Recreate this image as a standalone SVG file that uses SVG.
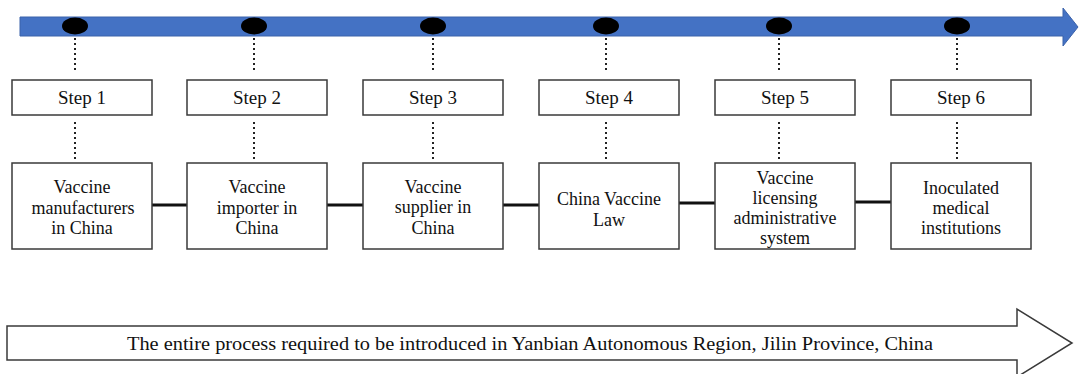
<svg xmlns="http://www.w3.org/2000/svg" width="1079" height="374" viewBox="0 0 1079 374">
<style>
.box{fill:#fff;stroke:#3a3a3a;stroke-width:1.5}
.t{font-family:"Liberation Serif","Times New Roman",serif;font-size:18px;fill:#111;text-anchor:middle}
.st{font-size:19px}
.dot{fill:none;stroke:#222;stroke-width:2;stroke-dasharray:2 3}
.conn{stroke:#111;stroke-width:3}
.bead{fill:#000}
</style>
<g id="timeline">
<polygon points="20,17 1063,17 1063,8 1078,27 1063,46 1063,36 20,36" fill="#4472C4" stroke="#3b62aa" stroke-width="1"/>
<ellipse class="bead" cx="75" cy="26" rx="13" ry="8.5"/>
<ellipse class="bead" cx="254" cy="26" rx="13" ry="8.5"/>
<ellipse class="bead" cx="433" cy="26" rx="13" ry="8.5"/>
<ellipse class="bead" cx="606" cy="26" rx="13" ry="8.5"/>
<ellipse class="bead" cx="779" cy="26" rx="13" ry="8.5"/>
<ellipse class="bead" cx="957" cy="26" rx="13" ry="8.5"/>
</g>
<g id="connectors">
<line class="dot" x1="75" y1="38" x2="75" y2="73"/>
<line class="dot" x1="254" y1="38" x2="254" y2="73"/>
<line class="dot" x1="433" y1="38" x2="433" y2="73"/>
<line class="dot" x1="606" y1="38" x2="606" y2="73"/>
<line class="dot" x1="779" y1="38" x2="779" y2="73"/>
<line class="dot" x1="957" y1="38" x2="957" y2="73"/>
<line class="dot" x1="75" y1="122" x2="75" y2="159"/>
<line class="dot" x1="254" y1="122" x2="254" y2="159"/>
<line class="dot" x1="433" y1="122" x2="433" y2="159"/>
<line class="dot" x1="606" y1="122" x2="606" y2="159"/>
<line class="dot" x1="779" y1="122" x2="779" y2="159"/>
<line class="dot" x1="957" y1="122" x2="957" y2="159"/>
<line class="conn" x1="152" y1="205" x2="187" y2="205"/>
<line class="conn" x1="327" y1="205" x2="363" y2="205"/>
<line class="conn" x1="503" y1="205" x2="539" y2="205"/>
<line class="conn" x1="679" y1="203" x2="715" y2="203"/>
<line class="conn" x1="855" y1="202" x2="891" y2="202"/>
</g>
<g id="step1"><rect class="box" x="12" y="80" width="140" height="35"/><text class="t st" x="82" y="104">Step 1</text></g>
<g id="step2"><rect class="box" x="187" y="80" width="140" height="35"/><text class="t st" x="257" y="104">Step 2</text></g>
<g id="step3"><rect class="box" x="363" y="80" width="140" height="35"/><text class="t st" x="433" y="104">Step 3</text></g>
<g id="step4"><rect class="box" x="539" y="80" width="140" height="35"/><text class="t st" x="609" y="104">Step 4</text></g>
<g id="step5"><rect class="box" x="715" y="80" width="140" height="35"/><text class="t st" x="785" y="104">Step 5</text></g>
<g id="step6"><rect class="box" x="891" y="80" width="140" height="35"/><text class="t st" x="961" y="104">Step 6</text></g>
<g id="node1"><rect class="box" x="12" y="163" width="140" height="86"/>
<text class="t" x="82" y="193">Vaccine</text><text class="t" x="83" y="214">manufacturers</text><text class="t" x="82" y="234">in China</text></g>
<g id="node2"><rect class="box" x="187" y="163" width="140" height="86"/>
<text class="t" x="257" y="193">Vaccine</text><text class="t" x="257" y="214">importer in</text><text class="t" x="257" y="234">China</text></g>
<g id="node3"><rect class="box" x="363" y="163" width="140" height="86"/>
<text class="t" x="433" y="193">Vaccine</text><text class="t" x="433" y="213">supplier in</text><text class="t" x="433" y="234">China</text></g>
<g id="node4"><rect class="box" x="539" y="163" width="140" height="86"/>
<text class="t" x="609" y="205">China Vaccine</text><text class="t" x="609" y="226">Law</text></g>
<g id="node5"><rect class="box" x="715" y="163" width="140" height="86"/>
<text class="t" x="785" y="184">Vaccine</text><text class="t" x="785" y="204">licensing</text><text class="t" x="785" y="224">administrative</text><text class="t" x="785" y="244">system</text></g>
<g id="node6"><rect class="box" x="891" y="163" width="140" height="86"/>
<text class="t" x="961" y="194">Inoculated</text><text class="t" x="961" y="214">medical</text><text class="t" x="961" y="234">institutions</text></g>
<g id="process">
<polygon points="7,326 1017,326 1017,309 1072,343 1017,377 1017,360 7,360" fill="#fff" stroke="#3a3a3a" stroke-width="1.5"/>
<text class="t" x="530" y="350" textLength="806" lengthAdjust="spacingAndGlyphs">The entire process required to be introduced in Yanbian Autonomous Region, Jilin Province, China</text>
</g>
</svg>
